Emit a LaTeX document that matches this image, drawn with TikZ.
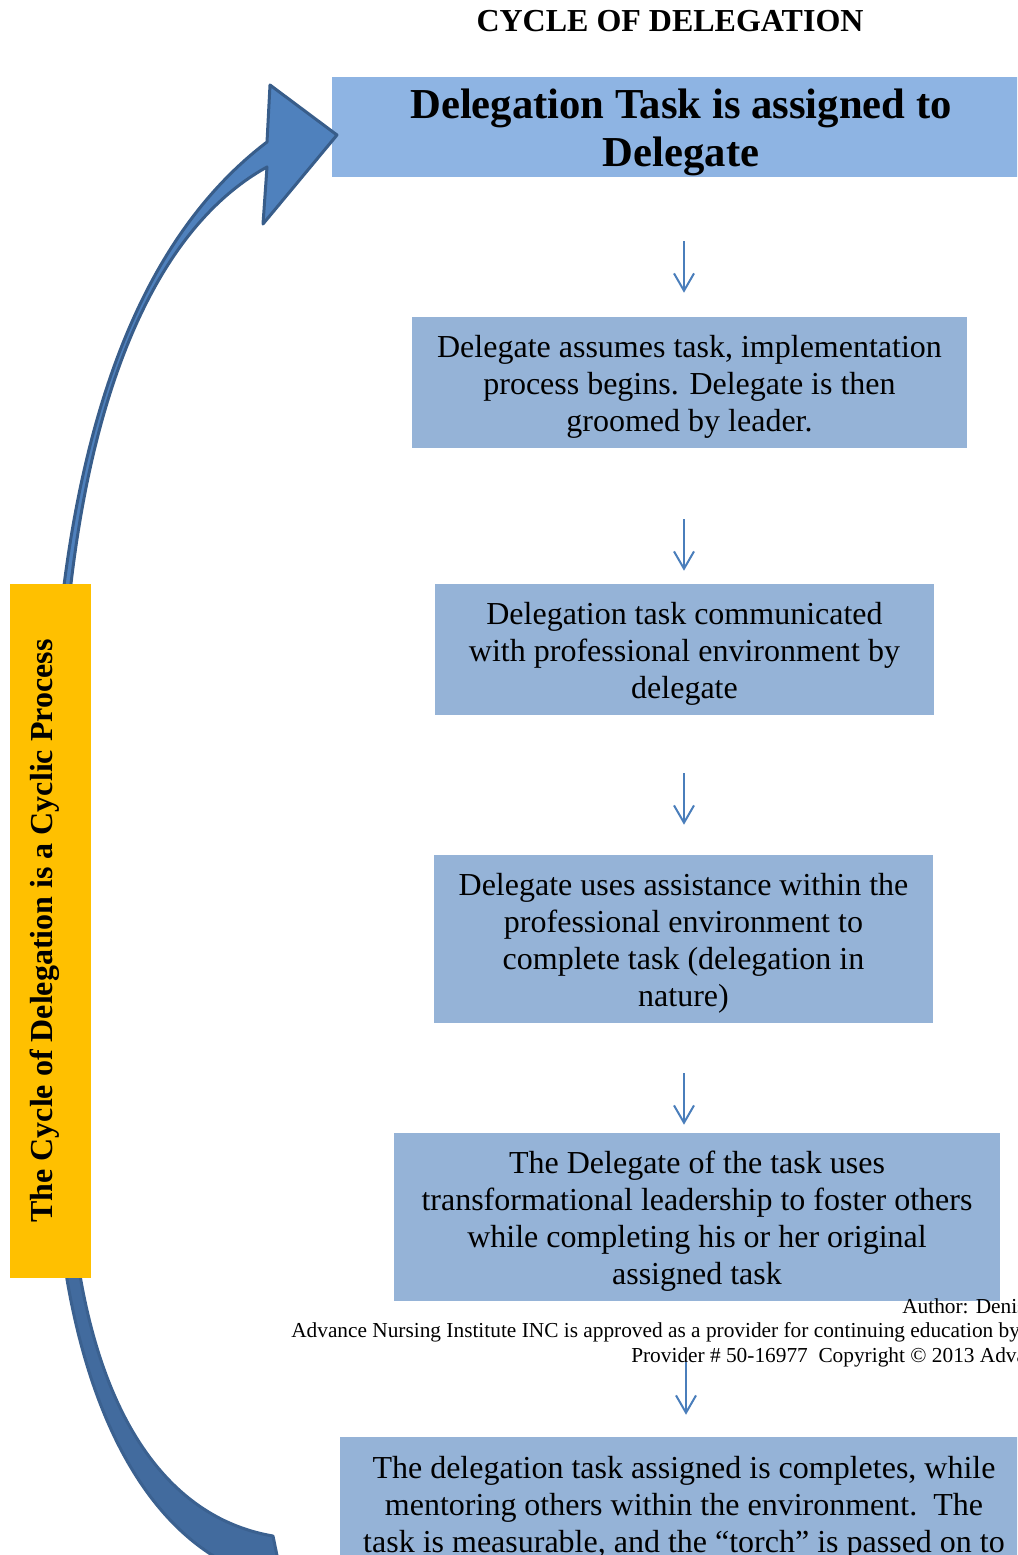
\documentclass[tikz,border=0pt]{standalone}
\usepackage{fontspec}
\setmainfont{Liberation Serif}
\usetikzlibrary{arrows.meta}

\definecolor{headblue}{HTML}{8EB4E3}
\definecolor{stepblue}{HTML}{95B3D7}
\definecolor{arrowblue}{HTML}{4A7EBB}
\definecolor{arcfill}{HTML}{4F81BD}
\definecolor{arcline}{HTML}{385D8A}
\definecolor{arcback}{HTML}{426B9E}
\definecolor{arcbackline}{HTML}{3B6190}
\definecolor{cyclegold}{HTML}{FFC000}

\begin{document}
\begin{tikzpicture}[x=0.75pt,y=-0.75pt,
  stepbox/.style={fill=stepblue, inner sep=0pt},
  headbox/.style={fill=headblue, inner sep=0pt},
  steptext/.style={align=center, inner sep=0pt,
    font=\fontsize{24}{27.75}\selectfont},
  headtext/.style={align=center, inner sep=0pt,
    font=\fontsize{32}{36}\selectfont\bfseries},
  flow/.style={draw=arrowblue, line width=1.5pt,
    -{Straight Barb[length=13pt,width=15pt]}},
  footnote/.style={anchor=west, inner sep=0pt, font=\fontsize{16}{18}\selectfont},
  arcpart/.style={line width=2.25pt, line join=round},
]
\useasboundingbox (0,0) rectangle (1017,1555);
\clip (0,0) rectangle (1017,1555);

% title
\node[font=\fontsize{24}{28}\selectfont\bfseries] (title) at (670,21) {CYCLE OF DELEGATION};

% steps of the cycle
\node[headbox, minimum width=523.5pt, minimum height=75pt] (b1) at (681,127) {};
\node[stepbox, minimum width=416.25pt, minimum height=98.25pt] (b2) at (689.5,382.5) {};
\node[stepbox, minimum width=374.25pt, minimum height=98.25pt] (b3) at (684.5,649.5) {};
\node[stepbox, minimum width=374.25pt, minimum height=126pt] (b4) at (683.5,939) {};
\node[stepbox, minimum width=454.5pt, minimum height=126pt] (b5) at (697,1217) {};
\node[stepbox, minimum width=516pt, minimum height=98.25pt] (b6) at (684,1502.5) {};

\node[headtext] (t1) at ([yshift=-3.75pt]b1.center)
  {Delegation Task is assigned to\\Delegate};
\node[steptext] (t2) at ([yshift=-3pt]b2.center)
  {Delegate assumes task, implementation\\process begins. Delegate is then\\groomed by leader.};
\node[steptext] (t3) at ([yshift=-3pt]b3.center)
  {Delegation task communicated\\with professional environment by\\delegate};
\node[steptext] (t4) at ([yshift=-3pt]b4.center)
  {Delegate uses assistance within the\\professional environment to\\complete task (delegation in\\nature)};
\node[steptext] (t5) at ([yshift=-3.5pt]b5.center)
  {The Delegate of the task uses\\transformational leadership to foster others\\while completing his or her original\\assigned task};
\node[steptext] (t6) at ([yshift=-3.75pt]b6.center)
  {The delegation task assigned is completes, while\\mentoring others within the environment.\ \ The\\task is measurable, and the “torch” is passed on to};

% footer lines
\node[footnote] (author) at (902,1306) {Author: Denis};
\node[footnote] (approval) at (291,1332) {Advance Nursing Institute INC is approved as a provider for continuing education by};
\node[footnote] (provider) at (631,1357) {Provider \# 50-16977\ \ Copyright © 2013 Adva};

% connectors between steps
\coordinate (ax) at (684,0);
\coordinate (ax5) at (686,0);
\draw[flow, shorten <=48pt, shorten >=18pt] (b1.south -| ax) -- (b2.north -| ax);
\draw[flow, shorten <=53.25pt, shorten >=9.75pt] (b2.south -| ax) -- (b3.north -| ax);
\draw[flow, shorten <=43.5pt, shorten >=22.5pt] (b3.south -| ax) -- (b4.north -| ax);
\draw[flow, shorten <=37.5pt, shorten >=6pt] (b4.south -| ax) -- (b5.north -| ax);
\draw[flow, shorten <=45.75pt, shorten >=16.5pt] (b5.south -| ax5) -- (b6.north -| ax5);

% large curved arrow: lower (back) part
\filldraw[arcpart, fill=arcback, draw=arcbackline]
  (54,1150) .. controls (62,1360) and (125,1520) .. (240,1570)
  -- (280,1570) -- (273,1536)
  .. controls (150,1515) and (75,1380) .. (68,1150)
  -- cycle;
% large curved arrow: upper part with head
\filldraw[arcpart, fill=arcfill, draw=arcline]
  (50,800) .. controls (54,470) and (125,250) .. (267,142)
  -- (270,85) -- (337,135) -- (263,224) -- (267,167)
  .. controls (135,240) and (58,460) .. (60,800)
  -- cycle;

% side label
\node[fill=cyclegold, minimum width=60.75pt, minimum height=520.5pt, inner sep=0pt] (bar) at (50.5,931) {};
\node[rotate=90, inner sep=0pt, font=\fontsize{24}{28}\selectfont\bfseries] (label) at (45,931)
  {The Cycle of Delegation is a Cyclic Process};
\end{tikzpicture}
\end{document}
